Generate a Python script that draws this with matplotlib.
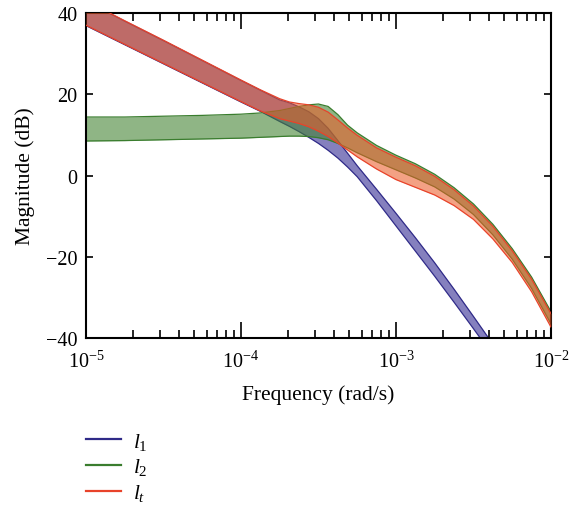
import numpy as np
import matplotlib

matplotlib.use("Agg")
from matplotlib import pyplot as plt
from matplotlib.lines import Line2D

# Frequency grid (log10 of rad/s) and band limits in dB
log_freq = [-5, -4.75, -4.5, -4.25, -4, -3.875, -3.75, -3.6875, -3.625, -3.5625, -3.5,
            -3.4375, -3.375, -3.3125, -3.25, -3.125, -3, -2.875, -2.75, -2.625, -2.5,
            -2.375, -2.25, -2.125, -2]

l1_upper = [42.9, 38.0, 33.2, 28.3, 23.4, 21.0, 18.6, 17.9, 16.9, 15.7, 14.0, 11.6, 8.6,
            5.5, 2.4, -3.4, -9.3, -15.3, -21.5, -28.0, -34.7, -41.5, -48.5, -55.5, -62.5]
l1_lower = [36.9, 32.2, 27.5, 22.8, 18.1, 15.8, 13.3, 12.1, 10.8, 9.4, 7.9, 6.2, 4.3,
            2.1, -0.3, -6.2, -12.4, -18.6, -24.8, -31.2, -37.7, -44.3, -51.0, -57.8, -64.5]

l2_upper = [14.4, 14.4, 14.6, 14.8, 15.1, 15.4, 16.0, 16.5, 17.0, 17.4, 17.6, 17.0, 15.0,
            12.4, 10.5, 7.4, 5.0, 2.9, 0.3, -3.0, -7.0, -12.0, -18.0, -25.0, -33.5]
l2_lower = [8.5, 8.6, 8.8, 9.0, 9.2, 9.4, 9.6, 9.7, 9.7, 9.6, 9.3, 8.8, 7.9,
            6.8, 5.6, 3.4, 1.4, -0.6, -2.8, -5.8, -9.6, -14.6, -20.6, -27.8, -36.5]

lt_upper = [43.0, 38.1, 33.3, 28.4, 23.5, 21.1, 18.9, 18.1, 17.7, 17.4, 16.8, 15.6, 13.7,
            11.7, 9.9, 6.8, 4.5, 2.4, -0.2, -3.5, -7.5, -12.5, -18.5, -25.5, -34.0]
lt_lower = [37.0, 32.3, 27.6, 22.9, 18.2, 15.9, 14.0, 13.4, 12.8, 12.0, 10.9, 9.6, 8.0,
            6.3, 4.6, 1.6, -1.0, -2.9, -4.8, -7.4, -10.8, -15.6, -21.4, -28.6, -37.3]

labels = ["$l_1$", "$l_2$", "$l_t$"]

plt.rcParams["font.family"] = ["Liberation Serif", "DejaVu Serif"]
plt.rcParams["mathtext.fontset"] = "custom"
plt.rcParams["mathtext.rm"] = "Liberation Serif"
plt.rcParams["mathtext.it"] = "Liberation Serif:italic"
plt.rcParams["font.size"] = 14

freq = 10.0 ** np.array(log_freq)

fig = plt.figure(figsize=(5.69, 5.06), dpi=100)
ax = fig.add_axes([0.1511, 0.33, 0.8172, 0.6423])

# fill colour, edge colour, fill alpha
bands = [
    (l1_lower, l1_upper, "#342b94", "#2f2a88", 0.6),
    (l2_lower, l2_upper, "#448434", "#3a7d2e", 0.6),
    (lt_lower, lt_upper, "#eb5b27", "#e8432a", 0.57),
]
handles = []
for i, (lo, up, fill_col, line_col, alpha) in enumerate(bands):
    z = 1 + i
    ax.fill_between(freq, lo, up, color=fill_col, alpha=alpha, lw=0, zorder=z)
    ax.plot(freq, lo, color=line_col, lw=0.9, zorder=z + 0.5)
    ax.plot(freq, up, color=line_col, lw=0.9, zorder=z + 0.5)
    handles.append(Line2D([], [], color=line_col, lw=1.6))

ax.set_xscale("log")
ax.set_xlim(1e-5, 1e-2)
ax.set_ylim(-40, 40)
ax.set_yticks([-40, -20, 0, 20, 40])
ax.set_xlabel("Frequency (rad/s)", fontsize=15.5, labelpad=9)
ax.set_ylabel("Magnitude (dB)", fontsize=15.5, labelpad=8)

for side in ax.spines.values():
    side.set_linewidth(1.5)
ax.tick_params(axis="both", which="both", direction="in", top=True, right=True, width=1.2,
               labelsize=14.5)
ax.tick_params(axis="x", which="major", length=11.5, pad=9)
ax.tick_params(axis="x", which="minor", length=6)
ax.tick_params(axis="y", which="major", length=5, pad=6)
ax.tick_params(axis="y", which="minor", length=0)

fig.legend(handles, labels, loc="upper left", bbox_to_anchor=(0.151, 0.147),
           frameon=False, handlelength=1.65, handletextpad=0.55, labelspacing=0.22,
           borderpad=0, borderaxespad=0, fontsize=15.5)

fig.savefig("out.png", dpi=100)
